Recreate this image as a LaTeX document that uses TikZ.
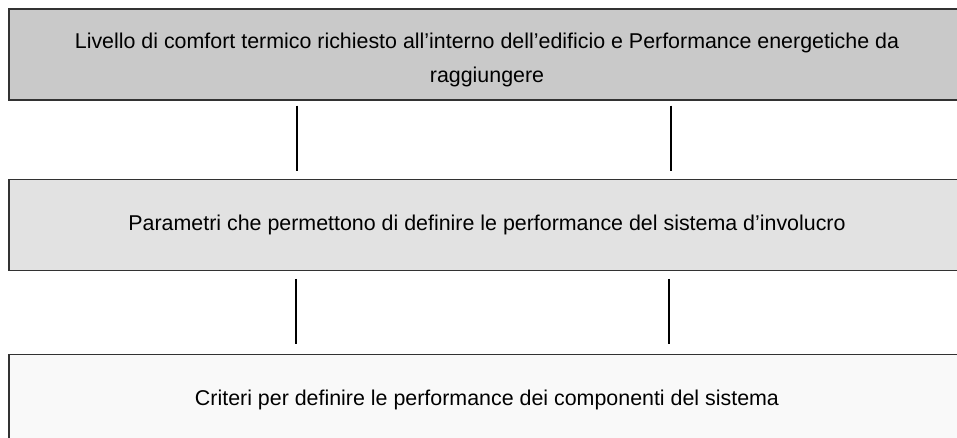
\documentclass[tikz,border=0pt]{standalone}
\usepackage{fontspec}
\setmainfont{Liberation Sans}
\usepackage{tikz}
\usetikzlibrary{positioning,calc}
\usepackage{xcolor}
\definecolor{boxline}{RGB}{50,50,50}
\definecolor{levelone}{RGB}{201,201,201}
\definecolor{leveltwo}{RGB}{226,226,226}
\definecolor{levelthree}{RGB}{249,249,249}

\begin{document}
\begin{tikzpicture}[x=1pt,y=-1pt,
    levelbox/.style={draw=boxline,line width=1.3pt,rectangle,minimum width=956pt,minimum height=91pt,
      inner sep=0pt,align=center,font=\fontsize{21.4}{34}\selectfont},
    link/.style={line width=2pt,black}]
    \useasboundingbox (0,0) rectangle (957,437);
    % boxes
    \node[levelbox,fill=levelone] (comfort) at (487,54.5)
      {\rule{0pt}{26pt}Livello di comfort termico richiesto all’interno dell’edificio e Performance energetiche da\\raggiungere};
    \node[levelbox,fill=leveltwo,below=78pt of comfort] (parametri)
      {Parametri che permettono di definire le performance del sistema d’involucro};
    \node[levelbox,fill=levelthree,below=83pt of parametri] (criteri)
      {Criteri per definire le performance dei componenti del sistema};
    % links
    \draw[link,shorten <=5pt,shorten >=8pt]
      ($(comfort.south west)!0.302!(comfort.south east)$) -- ($(parametri.north west)!0.302!(parametri.north east)$);
    \draw[link,shorten <=5pt,shorten >=8pt]
      ($(comfort.south west)!0.692!(comfort.south east)$) -- ($(parametri.north west)!0.692!(parametri.north east)$);
    \draw[link,shorten <=8pt,shorten >=10pt]
      ($(parametri.south west)!0.300!(parametri.south east)$) -- ($(criteri.north west)!0.300!(criteri.north east)$);
    \draw[link,shorten <=8pt,shorten >=10pt]
      ($(parametri.south west)!0.690!(parametri.south east)$) -- ($(criteri.north west)!0.690!(criteri.north east)$);
\end{tikzpicture}
\end{document}
